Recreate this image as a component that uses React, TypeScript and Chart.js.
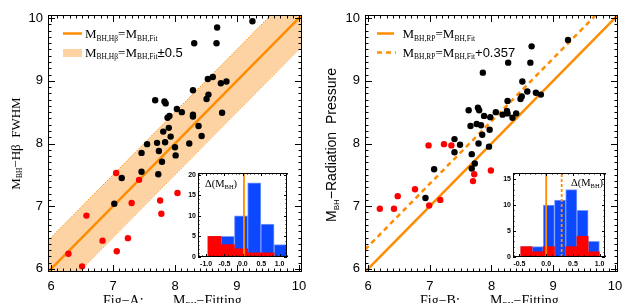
import React, { useEffect, useRef } from "react";
import { Chart, registerables } from "chart.js";
Chart.register(...registerables);

// ---------------- data ----------------
const axisTicks = [6, 7, 8, 9, 10];
const axisRange = [5.95, 10.05];

// Panel A : M_BH(Hbeta FWHM) vs M_BH(fitting)
const aBlackX = [9.25, 8.68, 8.31, 8.67, 8.53, 8.61, 8.74, 8.83, 8.29, 8.54, 8.51, 8.76, 7.68, 7.83, 7.85, 8.03, 8.11, 8.29, 8.29, 7.91, 7.88, 8.38, 7.90, 7.81, 8.43, 7.93, 7.55, 7.71, 7.84, 8.23, 8.00, 7.46, 7.74, 8.01, 7.79, 7.46, 7.73, 7.14, 7.02];
const aBlackY = [9.95, 9.85, 9.60, 9.60, 9.03, 9.06, 8.96, 8.99, 8.85, 8.78, 8.71, 8.49, 8.69, 8.67, 8.64, 8.55, 8.50, 8.46, 8.43, 8.44, 8.41, 8.28, 8.25, 8.19, 8.12, 8.11, 7.99, 8.01, 8.02, 8.00, 7.94, 7.85, 7.88, 7.81, 7.71, 7.55, 7.51, 7.45, 7.04];
const aRedX = [7.05, 7.42, 7.30, 6.57, 8.04, 7.76, 7.78, 6.83, 7.24, 7.06, 6.28, 6.50];
const aRedY = [7.53, 7.42, 7.05, 6.85, 7.21, 7.09, 6.88, 6.45, 6.49, 6.28, 6.24, 6.04];
const aBand = 0.5;

// Panel B : M_BH(radiation pressure) vs M_BH(fitting)
const bBlackX = [9.24, 8.65, 8.27, 8.63, 7.86, 8.50, 8.58, 8.72, 8.80, 8.49, 8.47, 8.26, 7.63, 7.78, 7.80, 8.07, 8.25, 8.26, 8.18, 7.88, 7.98, 8.40, 8.34, 7.66, 7.76, 7.83, 7.97, 7.85, 7.40, 7.49, 7.79, 7.40, 7.96, 7.68, 7.73, 7.68, 7.07, 6.93];
const bBlackY = [9.65, 9.55, 9.29, 9.29, 9.13, 8.99, 8.83, 8.81, 8.78, 8.75, 8.71, 8.68, 8.53, 8.57, 8.53, 8.50, 8.52, 8.48, 8.46, 8.44, 8.42, 8.48, 8.41, 8.28, 8.31, 8.29, 8.22, 8.14, 8.07, 7.98, 8.00, 7.86, 7.95, 7.83, 7.68, 7.60, 7.59, 7.13];
const bRedX = [6.98, 7.23, 7.35, 7.99, 7.72, 7.70, 6.76, 6.48, 7.17, 6.99, 6.19, 6.42];
const bRedY = [7.97, 7.99, 7.97, 7.57, 7.51, 7.40, 7.27, 7.16, 7.10, 7.01, 6.96, 6.96];
const bOffset = 0.357;

// inset histograms of Delta(M_BH)
const hA_centers = [-0.77, -0.41, -0.05, 0.31, 0.67, 1.03];
const hA_all = [5, 5, 10, 18, 8, 3];
const hA_red = [5, 3, 2, 1, 1, 0];
const hA_xTicks = [-1.0, -0.5, 0.0, 0.5, 1.0];
const hA_yTicks = [0, 5, 10, 15, 20];
const hA_xRange = [-1.22, 1.2];
const hA_yMax = 20.4;
const hA_marker = 0.03;

const hB_centers = [-0.37, -0.16, 0.05, 0.26, 0.47, 0.68, 0.89];
const hB_all = [2, 2, 10, 11, 13, 9, 3];
const hB_red = [2, 1, 2, 0, 2, 4, 1];
const hB_xTicks = [-0.5, 0.0, 0.5, 1.0];
const hB_yTicks = [0, 5, 10, 15];
const hB_xRange = [-0.62, 1.1];
const hB_yMax = 16.2;
const hB_markerSolid = 0.0;
const hB_markerDashed = 0.29;

// ---------------- styling ----------------
const ORANGE = "#ff8c00";
const BAND = "#fed3a4";
const BLUE = "#0b48ff";
const BLUE_EDGE = "#7d9bff";
const RED = "#ff0000";
const SERIF = '"Liberation Serif","DejaVu Serif",serif';
const SANS = '"Liberation Sans","DejaVu Sans",sans-serif';

type Seg = [string, number, number?, string?];

function rich(ctx: CanvasRenderingContext2D, segs: Seg[], x: number, y: number, align: "left" | "center") {
  ctx.textAlign = "left";
  ctx.textBaseline = "alphabetic";
  let w = 0;
  for (const s of segs) {
    ctx.font = `${s[1]}px ${s[3] || SERIF}`;
    w += ctx.measureText(s[0]).width;
  }
  let cx = align === "center" ? x - w / 2 : x;
  for (const s of segs) {
    ctx.font = `${s[1]}px ${s[3] || SERIF}`;
    ctx.fillText(s[0], cx, y + (s[2] || 0));
    cx += ctx.measureText(s[0]).width;
  }
}

function steps(min: number, max: number, step: number) {
  const out: number[] = [];
  const start = Math.ceil(min / step - 1e-6);
  const end = Math.floor(max / step + 1e-6);
  for (let i = start; i <= end; i++) out.push(+(i * step).toFixed(6));
  return out;
}

function framePlugin(o: { xMinor: number; yMinor: number; major: number; minor: number; xMajor: number[]; yMajor: number[] }) {
  return {
    id: "frameTicks",
    afterDatasetsDraw(chart: any) {
      const { ctx, chartArea: a, scales } = chart;
      const xs = scales.x, ys = scales.y;
      ctx.save();
      ctx.strokeStyle = "#000";
      ctx.lineWidth = 1;
      ctx.beginPath();
      const vx = (v: number, len: number) => {
        const p = Math.round(xs.getPixelForValue(v)) + 0.5;
        ctx.moveTo(p, a.bottom); ctx.lineTo(p, a.bottom - len);
        ctx.moveTo(p, a.top); ctx.lineTo(p, a.top + len);
      };
      const vy = (v: number, len: number) => {
        const p = Math.round(ys.getPixelForValue(v)) + 0.5;
        ctx.moveTo(a.left, p); ctx.lineTo(a.left + len, p);
        ctx.moveTo(a.right, p); ctx.lineTo(a.right - len, p);
      };
      steps(xs.min, xs.max, o.xMinor).forEach((v) => vx(v, o.minor));
      steps(ys.min, ys.max, o.yMinor).forEach((v) => vy(v, o.minor));
      o.xMajor.forEach((v) => vx(v, o.major));
      o.yMajor.forEach((v) => vy(v, o.major));
      ctx.stroke();
      ctx.strokeRect(Math.round(a.left) + 0.5, Math.round(a.top) + 0.5, Math.round(a.right - a.left) - 1, Math.round(a.bottom - a.top) - 1);
      ctx.restore();
    },
  };
}

function textPlugin(offsetX: number, offsetY: number, draw: (ctx: CanvasRenderingContext2D) => void) {
  return {
    id: "richText",
    afterDraw(chart: any) {
      const ctx = chart.ctx as CanvasRenderingContext2D;
      ctx.save();
      ctx.translate(-offsetX, -offsetY);
      ctx.fillStyle = "#000";
      draw(ctx);
      ctx.restore();
    },
  };
}

function pts(xs: number[], ys: number[]) {
  return xs.map((x, i) => ({ x, y: ys[i] }));
}

function mainScales(yWidth: number, xHeight: number) {
  const common = {
    type: "linear",
    min: axisRange[0],
    max: axisRange[1],
    grid: { display: false, drawTicks: false },
    border: { display: false },
    afterBuildTicks: (s: any) => { s.ticks = axisTicks.map((v) => ({ value: v })); },
  };
  return {
    x: {
      ...common,
      ticks: { color: "#000", font: { family: SANS, size: 13 }, padding: 7, maxRotation: 0, autoSkip: false },
      afterFit: (s: any) => { s.height = xHeight; },
    },
    y: {
      ...common,
      ticks: { color: "#000", font: { family: SANS, size: 13 }, padding: 5, autoSkip: false },
      afterFit: (s: any) => { s.width = yWidth; },
    },
  };
}

function lineDs(yOffset: number, extra: any) {
  return {
    type: "line",
    data: axisRange.map((x) => ({ x, y: x + yOffset })),
    pointRadius: 0,
    borderColor: ORANGE,
    ...extra,
  };
}

function configA(): any {
  return {
    type: "scatter",
    data: {
      datasets: [
        { data: pts(aRedX, aRedY), backgroundColor: RED, pointRadius: 3.2, pointBorderWidth: 0 },
        { data: pts(aBlackX, aBlackY), backgroundColor: "#000", pointRadius: 3.2, pointBorderWidth: 0 },
        lineDs(0, { borderWidth: 2.5 }),
        lineDs(aBand, { borderWidth: 1, borderDash: [1.5, 1.5], fill: "+1", backgroundColor: BAND }),
        lineDs(-aBand, { borderWidth: 1, borderDash: [1.5, 1.5], fill: false }),
      ],
    },
    options: {
      animation: false,
      responsive: false,
      events: [],
      layout: { padding: { top: 15, right: 18, left: 0, bottom: 0 } },
      plugins: { legend: { display: false }, tooltip: { enabled: false } },
      scales: mainScales(48, 31),
    },
    plugins: [
      framePlugin({ xMinor: 0.1, yMinor: 0.1, major: 7, minor: 3.5, xMajor: axisTicks, yMajor: axisTicks }),
      textPlugin(0, 0, (ctx) => {
        ctx.strokeStyle = ORANGE;
        ctx.lineWidth = 2.5;
        ctx.beginPath(); ctx.moveTo(63, 33.5); ctx.lineTo(82, 33.5); ctx.stroke();
        rich(ctx, [["M", 13], ["BH,H\u03b2", 7.5, 2.5], ["=", 13], ["M", 13], ["BH,Fit", 7.5, 2.5]], 85, 38, "left");
        ctx.fillStyle = BAND;
        ctx.fillRect(63, 49, 19, 8);
        ctx.fillStyle = "#000";
        rich(ctx, [["M", 13], ["BH,H\u03b2", 7.5, 2.5], ["=", 13], ["M", 13], ["BH,Fit", 7.5, 2.5], ["\u00b10.5", 13, 0, SANS]], 85, 56.5, "left");
        ctx.save();
        ctx.translate(15, 143.5);
        ctx.rotate(-Math.PI / 2);
        rich(ctx, [["M", 13], ["BH", 7.5, 2.5], ["\u2212H\u03b2  FWHM", 13]], 0, 4.5, "center");
        ctx.restore();
        rich(ctx, [["Fig\u2212A:", 14]], 103, 305, "left");
        rich(ctx, [["M", 14], ["BH", 8, 2.5], ["\u2212Fitting", 14]], 173, 305, "left");
      }),
    ],
  };
}

function configB(): any {
  return {
    type: "scatter",
    data: {
      datasets: [
        { data: pts(bRedX, bRedY), backgroundColor: RED, pointRadius: 3.2, pointBorderWidth: 0 },
        { data: pts(bBlackX, bBlackY), backgroundColor: "#000", pointRadius: 3.2, pointBorderWidth: 0 },
        lineDs(0, { borderWidth: 2.5 }),
        lineDs(bOffset, { borderWidth: 2.5, borderDash: [5, 4] }),
      ],
    },
    options: {
      animation: false,
      responsive: false,
      events: [],
      layout: { padding: { top: 15, right: 15, left: 0, bottom: 0 } },
      plugins: { legend: { display: false }, tooltip: { enabled: false } },
      scales: mainScales(49, 31),
    },
    plugins: [
      framePlugin({ xMinor: 0.1, yMinor: 0.1, major: 7, minor: 3.5, xMajor: axisTicks, yMajor: axisTicks }),
      textPlugin(316, 0, (ctx) => {
        ctx.strokeStyle = ORANGE;
        ctx.lineWidth = 2.5;
        ctx.beginPath(); ctx.moveTo(377, 33.5); ctx.lineTo(394, 33.5); ctx.stroke();
        ctx.setLineDash([5, 4]);
        ctx.beginPath(); ctx.moveTo(377, 52.5); ctx.lineTo(396, 52.5); ctx.stroke();
        ctx.setLineDash([]);
        rich(ctx, [["M", 13], ["BH,RP", 7.5, 2.5], ["=", 13], ["M", 13], ["BH,Fit", 7.5, 2.5]], 402.5, 38, "left");
        rich(ctx, [["M", 13], ["BH,RP", 7.5, 2.5], ["=", 13], ["M", 13], ["BH,Fit", 7.5, 2.5], ["+0.357", 13, 0, SANS]], 402.5, 56.5, "left");
        ctx.save();
        ctx.translate(331, 145);
        ctx.rotate(-Math.PI / 2);
        rich(ctx, [["M", 14, 0, SANS], ["BH", 8, 2.5, SANS], ["\u2212Radiation  Pressure", 14, 0, SANS]], 0, 5, "center");
        ctx.restore();
        rich(ctx, [["Fig\u2212B:", 14]], 420, 305, "left");
        rich(ctx, [["M", 14], ["BH", 8, 2.5], ["\u2212Fitting", 14]], 490, 305, "left");
      }),
    ],
  };
}

function histConfig(o: {
  centers: number[]; all: number[]; red: number[]; xTicks: number[]; yTicks: number[];
  xRange: number[]; yMax: number; markers: { x: number; dash: number[] }[];
  yWidth: number; xHeight: number; padTop: number; padRight: number; offsetX: number; offsetY: number;
  label: (ctx: CanvasRenderingContext2D) => void;
}): any {
  const bar = { grouped: false, barPercentage: 1, categoryPercentage: 1 };
  return {
    type: "bar",
    data: {
      datasets: [
        { ...bar, data: pts(o.centers, o.red), backgroundColor: RED, borderWidth: 0 },
        { ...bar, data: pts(o.centers, o.all), backgroundColor: BLUE, borderColor: BLUE_EDGE, borderWidth: 1 },
      ],
    },
    options: {
      animation: false,
      responsive: false,
      events: [],
      layout: { padding: { top: o.padTop, right: o.padRight, left: 0, bottom: 0 } },
      plugins: { legend: { display: false }, tooltip: { enabled: false } },
      scales: {
        x: {
          type: "linear", min: o.xRange[0], max: o.xRange[1], offset: false,
          grid: { display: false, drawTicks: false }, border: { display: false },
          afterBuildTicks: (s: any) => { s.ticks = o.xTicks.map((v) => ({ value: v })); },
          ticks: { color: "#000", font: { family: SANS, size: 7, weight: "bold" }, padding: 2.5, maxRotation: 0, autoSkip: false, callback: (v: any) => Number(v).toFixed(1) },
          afterFit: (s: any) => { s.height = o.xHeight; },
        },
        y: {
          type: "linear", min: 0, max: o.yMax,
          grid: { display: false, drawTicks: false }, border: { display: false },
          afterBuildTicks: (s: any) => { s.ticks = o.yTicks.map((v) => ({ value: v })); },
          ticks: { color: "#000", font: { family: SANS, size: 7, weight: "bold" }, padding: 2, autoSkip: false },
          afterFit: (s: any) => { s.width = o.yWidth; },
        },
      },
    },
    plugins: [
      {
        id: "whiteBox",
        beforeDatasetsDraw(chart: any) {
          const a = chart.chartArea;
          chart.ctx.save();
          chart.ctx.fillStyle = "#fff";
          chart.ctx.fillRect(a.left, a.top, a.right - a.left, a.bottom - a.top);
          chart.ctx.restore();
        },
      },
      {
        id: "markers",
        afterDatasetsDraw(chart: any) {
          const { ctx, chartArea: a, scales } = chart;
          ctx.save();
          ctx.strokeStyle = ORANGE;
          ctx.lineWidth = 1.8;
          for (const m of o.markers) {
            const p = scales.x.getPixelForValue(m.x);
            ctx.setLineDash(m.dash);
            ctx.beginPath();
            ctx.moveTo(p, a.bottom);
            ctx.lineTo(p, a.top);
            ctx.stroke();
          }
          ctx.restore();
        },
      },
      framePlugin({ xMinor: 0.1, yMinor: 1, major: 3, minor: 1.5, xMajor: o.xTicks, yMajor: o.yTicks }),
      textPlugin(o.offsetX, o.offsetY, o.label),
    ],
  };
}

function ChartCanvas(props: { left: number; top: number; width: number; height: number; make: () => any; z?: number }) {
  const ref = useRef<HTMLCanvasElement | null>(null);
  useEffect(() => {
    if (!ref.current) return;
    const chart = new Chart(ref.current, props.make());
    return () => chart.destroy();
  }, []);
  return (
    <canvas
      ref={ref}
      width={props.width}
      height={props.height}
      style={{ position: "absolute", left: props.left, top: props.top, width: props.width, height: props.height, zIndex: props.z || 0 }}
    />
  );
}

export default function App() {
  useEffect(() => {
    document.body.style.margin = "0";
    document.body.style.background = "#fff";
  }, []);
  return (
    <div style={{ position: "relative", width: 633, height: 303, overflow: "hidden", background: "#fff" }}>
      <ChartCanvas left={0} top={0} width={320} height={303} make={configA} />
      <ChartCanvas left={316} top={0} width={317} height={303} make={configB} />
      <ChartCanvas
        left={176} top={163} width={120} height={110} z={2}
        make={() => histConfig({
          centers: hA_centers, all: hA_all, red: hA_red, xTicks: hA_xTicks, yTicks: hA_yTicks,
          xRange: hA_xRange, yMax: hA_yMax, markers: [{ x: hA_marker, dash: [] }],
          yWidth: 22, xHeight: 16, padTop: 10, padRight: 9, offsetX: 176, offsetY: 163,
          label: (ctx) => rich(ctx, [["\u0394(M", 10.5], ["BH", 6.5, 2], [")", 10.5]], 205, 186.5, "left"),
        })}
      />
      <ChartCanvas
        left={492} top={163} width={122} height={110} z={2}
        make={() => histConfig({
          centers: hB_centers, all: hB_all, red: hB_red, xTicks: hB_xTicks, yTicks: hB_yTicks,
          xRange: hB_xRange, yMax: hB_yMax,
          markers: [{ x: hB_markerSolid, dash: [] }, { x: hB_markerDashed, dash: [3, 2] }],
          yWidth: 21, xHeight: 16, padTop: 10, padRight: 9, offsetX: 492, offsetY: 163,
          label: (ctx) => rich(ctx, [["\u0394(M", 10.5], ["BH", 6.5, 2], [")", 10.5]], 571, 185.5, "left"),
        })}
      />
    </div>
  );
}
